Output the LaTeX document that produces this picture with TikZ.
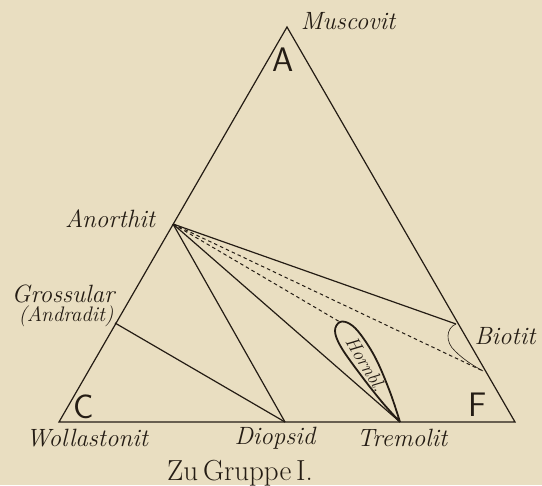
\documentclass[tikz,border=0pt]{standalone}
\usepackage{tikz}

\definecolor{paper}{RGB}{233,222,193}
\definecolor{ink}{RGB}{36,28,20}

\tikzset{
  side/.style={draw=ink, line width=1.2pt},
  tie/.style={draw=ink, line width=1pt, dash pattern=on 3.5pt off 3pt},
  mineral/.style={text=ink, inner sep=0pt, anchor=base, font=\fontsize{25}{30}\selectfont\itshape},
  corner/.style={text=ink, inner sep=0pt, anchor=base, font=\fontsize{34}{40}\selectfont\sffamily},
}

\begin{document}
\begin{tikzpicture}[x=1pt,y=-1pt]
        \fill[paper] (0,0) rectangle (542,485);
        % corners and points on the sides
        \coordinate (A) at (287,27);
        \coordinate (C) at (59,422);
        \coordinate (F) at (515,422);
        \coordinate (anorthit) at (173,224);
        \coordinate (grossular) at (115,323);
        \coordinate (diopsid) at (285,422);
        \coordinate (tremolit) at (400,422);
        \coordinate (biotitA) at (456,324);
        \coordinate (biotitB) at (483,371);
        \coordinate (hornTop) at (340,322);
        % dashed ties
        \draw[tie] (anorthit) -- (hornTop);
        \draw[tie] (anorthit) -- (biotitB);
        % triangle and ties
        \draw[side] (A) -- (C) -- (F) -- cycle;
        \draw[side] (anorthit) -- (biotitA);
        \draw[side] (anorthit) -- (diopsid);
        \draw[side] (anorthit) -- (tremolit);
        \draw[side] (grossular) -- (diopsid);
        % field of the biotite
        \draw[ink, line width=0.6pt] (biotitA) .. controls (446,328) and (445,342) .. (455,351)
              .. controls (464,360) and (474,366) .. (biotitB);
        % field of the hornblende
        \draw[ink, line width=1.8pt, line join=round] plot[smooth, tension=0.6] coordinates {
              (400,422) (390,392) (376,359) (361,335) (350,324) (hornTop)
              (335,331) (341,347) (360,374) (382,402) (400,422)};
        \node[text=ink, inner sep=0pt, rotate=-59, font=\fontsize{19}{22}\selectfont\itshape] (hornbl) at (366,364) {Hornbl.};
        % labels
        \node[corner] (labA) at (283,72) {A};
        \node[corner] (labC) at (84,418) {C};
        \node[corner] (labF) at (478,416) {F};
        \node[mineral] (muscovit) at (348,30) {Muscovit};
        \node[mineral] (anorthitL) at (110,227) {Anorthit};
        \node[mineral] (grossularL) at (63,302) {Grossular};
        \node[mineral, font=\fontsize{21}{24}\selectfont\itshape] (andradit) at (66,321) {(Andradit)};
        \node[mineral] (biotit) at (505,344) {Biotit};
        \node[mineral] (wollastonit) at (87,446) {Wollastonit};
        \node[mineral] (diopsidL) at (275,444) {Diopsid};
        \node[mineral] (tremolitL) at (402,446) {Tremolit};
        \node[text=ink, inner sep=0pt, anchor=base, font=\fontsize{29}{34}\selectfont] (gruppe) at (240,480) {Zu\,Gruppe\,I.};
\end{tikzpicture}
\end{document}
